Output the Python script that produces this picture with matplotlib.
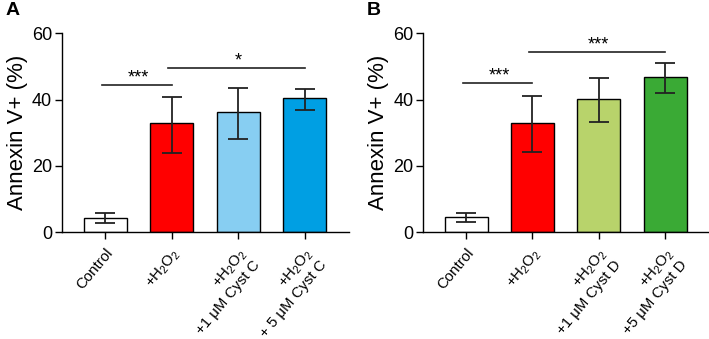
import matplotlib
matplotlib.use("Agg")
import matplotlib.pyplot as plt
import numpy as np

plt.rcParams['font.family'] = ['Liberation Sans', 'DejaVu Sans']
plt.rcParams['mathtext.fontset'] = 'custom'
plt.rcParams['mathtext.rm'] = 'Liberation Sans'
plt.rcParams['mathtext.it'] = 'Liberation Sans:italic'

labels_a = ["Control", "+H$_2$O$_2$", "+H$_2$O$_2$\n+1 μM Cyst C", "+H$_2$O$_2$\n+ 5 μM Cyst C"]
means_a = [4.2, 32.8, 36.2, 40.5]
err_hi_a = [5.7, 40.8, 43.6, 43.2]
err_lo_a = [2.7, 23.8, 28.0, 37.0]
colors_a = ["#FFFFFF", "#FF0000", "#87CEF2", "#009FE3"]
sig_a = [(0, 1, 44.4, "***"), (1, 3, 49.6, "*")]

labels_b = ["Control", "+H$_2$O$_2$", "+H$_2$O$_2$\n+1 μM Cyst D", "+H$_2$O$_2$\n+5 μM Cyst D"]
means_b = [4.5, 32.8, 40.2, 46.8]
err_hi_b = [5.8, 41.2, 46.4, 51.1]
err_lo_b = [3.0, 24.3, 33.3, 41.9]
colors_b = ["#FFFFFF", "#FF0000", "#B8D36B", "#3AAA35"]
sig_b = [(0, 1, 44.9, "***"), (1, 3, 54.3, "***")]

yticks = [0, 20, 40, 60]

fig = plt.figure(figsize=(7.09, 3.39), dpi=100)

def panel(rect, labels, means, hi, lo, colors, sigs, letter, xright):
    ax = fig.add_axes(rect)
    x = np.arange(len(means))
    ax.bar(x, means, width=0.65, color=colors, edgecolor="black", linewidth=1.0, zorder=2)
    yerr = [np.array(means) - np.array(lo), np.array(hi) - np.array(means)]
    ax.errorbar(x, means, yerr=yerr, fmt="none", ecolor="#222222", elinewidth=1.3,
                capsize=7.5, capthick=1.3, zorder=3)
    ax.set_xlim(-0.65, xright)
    ax.set_ylim(0, 60)
    ax.set_yticks(yticks)
    ax.set_xticks(x)
    ax.set_xticklabels(labels, rotation=50, ha="right", rotation_mode="anchor",
                       fontsize=10.8, linespacing=1.15)
    ax.tick_params(axis="y", labelsize=13, length=5, width=1, pad=2)
    ax.tick_params(axis="x", length=5, width=1, pad=5)
    for s in ["top", "right"]:
        ax.spines[s].set_visible(False)
    for s in ["left", "bottom"]:
        ax.spines[s].set_linewidth(1.0)
    ax.set_ylabel("Annexin V+ (%)", fontsize=16, labelpad=3)
    for (i, j, y, t) in sigs:
        ax.plot([i - 0.05, j], [y, y], color="#222222", lw=1.2, clip_on=False)
        ax.text((i + j) / 2, y - 0.4, t, ha="center", va="bottom", fontsize=13)
    fig.text(rect[0] - 0.08, 0.993, letter, fontsize=14, fontweight="bold", ha="left", va="top")
    return ax

panel([0.0874, 0.315, 0.405, 0.587], labels_a, means_a, err_hi_a, err_lo_a, colors_a, sig_a, "A", 3.67)
panel([0.5966, 0.315, 0.4034, 0.587], labels_b, means_b, err_hi_b, err_lo_b, colors_b, sig_b, "B", 3.66)

fig.savefig("out.png", dpi=100)
